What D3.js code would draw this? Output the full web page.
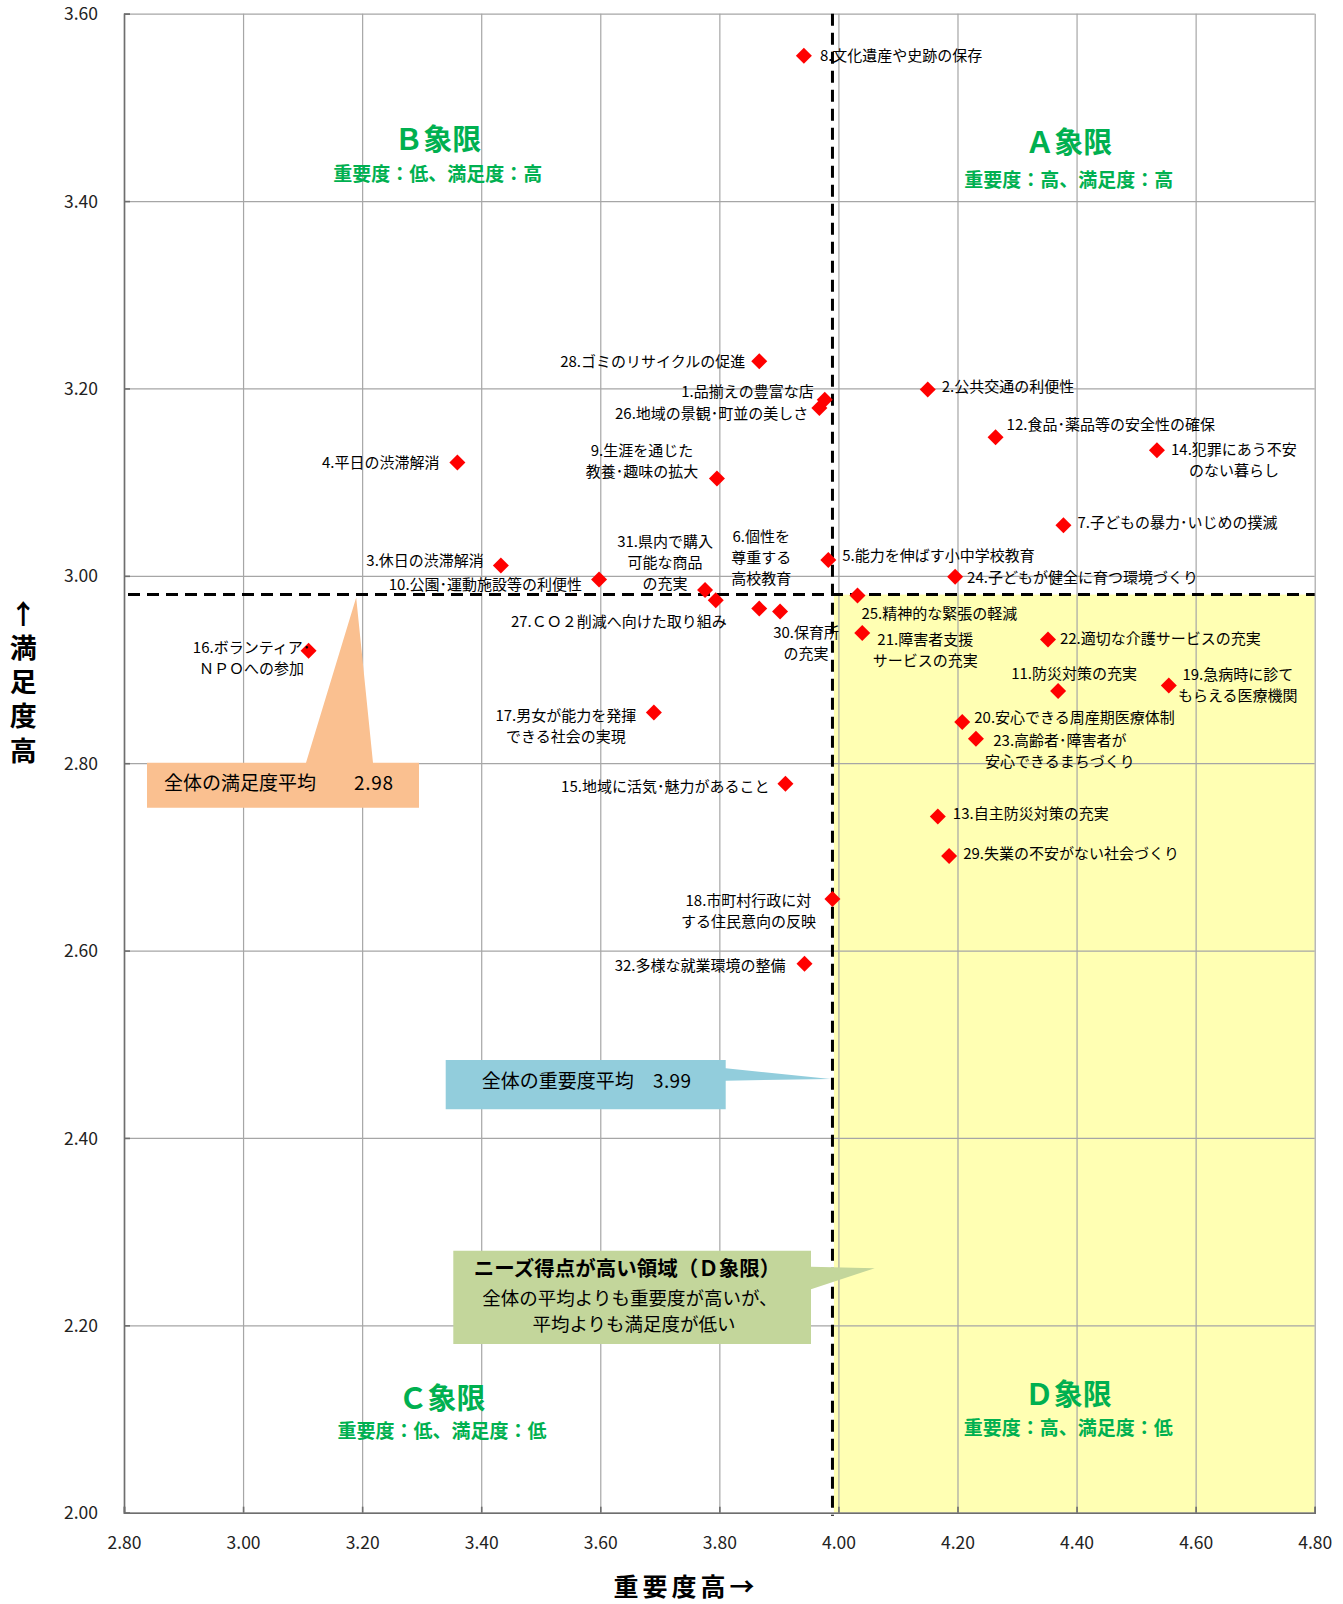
<!DOCTYPE html>
<html lang="ja">
<head>
<meta charset="UTF-8">
<title>重要度・満足度 散布図</title>
<script src="https://d3js.org/d3.v7.min.js"></script>
<style>
    body { margin: 0; background: #fff; }
    svg text { font-family: "Noto Sans CJK JP", "Noto Sans", sans-serif; }
</style>
</head>
<body>
<svg id="main" width="1343" height="1604"></svg>
<script>
    // item names, "|" marks a line break in the data label
    const items = [
        '1.品揃えの豊富な店', '2.公共交通の利便性', '3.休日の渋滞解消', '4.平日の渋滞解消',
        '5.能力を伸ばす小中学校教育', '6.個性を|尊重する|高校教育', '7.子どもの暴力･いじめの撲滅',
        '8.文化遺産や史跡の保存', '9.生涯を通じた|教養･趣味の拡大', '10.公園･運動施設等の利便性',
        '11.防災対策の充実', '12.食品･薬品等の安全性の確保', '13.自主防災対策の充実',
        '14.犯罪にあう不安|のない暮らし', '15.地域に活気･魅力があること', '16.ボランティア･|ＮＰＯへの参加',
        '17.男女が能力を発揮|できる社会の実現', '18.市町村行政に対|する住民意向の反映',
        '19.急病時に診て|もらえる医療機関', '20.安心できる周産期医療体制', '21.障害者支援|サービスの充実',
        '22.適切な介護サービスの充実', '23.高齢者･障害者が|安心できるまちづくり',
        '24.子どもが健全に育つ環境づくり', '25.精神的な緊張の軽減', '26.地域の景観･町並の美しさ',
        '27.ＣＯ２削減へ向けた取り組み', '28.ゴミのリサイクルの促進', '29.失業の不安がない社会づくり',
        '30.保育所|の充実', '31.県内で購入|可能な商品|の充実', '32.多様な就業環境の整備'
    ];
    // 重要度 (x)
    const importance = [3.977, 4.150, 3.433, 3.360, 3.983, 3.867, 4.378, 3.942, 3.796, 3.598,
        4.369, 4.264, 4.167, 4.535, 3.911, 3.110, 3.690, 3.990, 4.555, 4.208,
        4.040, 4.352, 4.231, 4.196, 4.032, 3.968, 3.794, 3.867, 4.186, 3.902, 3.776, 3.943];
    // 満足度 (y)
    const satisfaction = [3.188, 3.199, 3.011, 3.121, 3.017, 2.965, 3.054, 3.555, 3.104, 2.996,
        2.877, 3.148, 2.743, 3.134, 2.778, 2.920, 2.854, 2.655, 2.883, 2.844,
        2.939, 2.932, 2.826, 2.999, 2.979, 3.179, 2.974, 3.229, 2.701, 2.962, 2.985, 2.586];

    const xTicks = [2.8, 3.0, 3.2, 3.4, 3.6, 3.8, 4.0, 4.2, 4.4, 4.6, 4.8];
    const yTicks = [2.0, 2.2, 2.4, 2.6, 2.8, 3.0, 3.2, 3.4, 3.6];
    const avgImportance = 3.99;
    const avgSatisfaction = 2.98;

    // where each data label sits relative to its marker: [anchor, dx, dy]
    const labelPos = [
        ['end', -11, -8], ['start', 14, -3], ['end', -17, -5], ['end', -18, 0],
        ['start', 14, -4], ['middle', 2, -72], ['start', 14, -2], ['start', 16, 0],
        ['middle', -75, -28], ['end', -17, 5], ['middle', 16, -17], ['start', 11, -12],
        ['start', 15, -3], ['middle', 77, -1], ['end', -16, 3], ['middle', -57, -3],
        ['middle', -88, 3], ['middle', -84, 2], ['middle', 69, -11], ['start', 12, -4],
        ['middle', 63, 7], ['start', 12, -1], ['middle', 84, 2], ['start', 12, 1],
        ['start', 4, 18], ['end', -11, 6], ['end', 11, 22], ['end', -14, 0],
        ['start', 14, -2], ['middle', 26, 21], ['middle', -40, -48], ['end', -19, 2]
    ];

    let svg = d3.select('svg#main');
    let plot = {left: 124, right: 1314.7, top: 13.7, bottom: 1512.7};

    let xScale = d3.scaleLinear().domain([2.8, 4.8]).range([plot.left, plot.right]);
    let yScale = d3.scaleLinear().domain([2.0, 3.6]).range([plot.bottom, plot.top]);

    // D quadrant shading
    svg.append('rect')
        .attr('x', xScale(avgImportance) + 1.5)
        .attr('y', yScale(avgSatisfaction))
        .attr('width', plot.right - xScale(avgImportance) - 1.5)
        .attr('height', plot.bottom - yScale(avgSatisfaction))
        .attr('fill', '#ffffb3');

    // grid + tick labels
    let xAxis = svg.append('g')
        .attr('transform', 'translate(0,' + plot.bottom + ')')
        .call(d3.axisBottom(xScale).tickValues(xTicks).tickFormat(d3.format('.2f'))
            .tickSize(-(plot.bottom - plot.top)));
    xAxis.selectAll('text').attr('y', 30).attr('dy', '0.35em');

    let yAxis = svg.append('g')
        .attr('transform', 'translate(' + plot.left + ',0)')
        .call(d3.axisLeft(yScale).tickValues(yTicks).tickFormat(d3.format('.2f'))
            .tickSize(-(plot.right - plot.left)).tickPadding(26));
    yAxis.selectAll('text').attr('dy', '0.35em');

    svg.selectAll('.domain').remove();
    svg.selectAll('.tick line').attr('stroke', '#a6a6a6').attr('stroke-width', 1.2);
    svg.selectAll('.tick text')
        .attr('font-family', '"Noto Sans", sans-serif')
        .attr('font-size', 17.5).attr('fill', '#222');

    // axis lines with short inside ticks
    svg.append('g').attr('transform', 'translate(0,' + plot.bottom + ')')
        .call(d3.axisBottom(xScale).tickValues(xTicks).tickSize(-6).tickFormat(''))
        .selectAll('line, path').attr('stroke', '#6e6e6e').attr('stroke-width', 1.6);
    svg.append('g').attr('transform', 'translate(' + plot.left + ',0)')
        .call(d3.axisLeft(yScale).tickValues(yTicks).tickSize(-6).tickFormat(''))
        .selectAll('line, path').attr('stroke', '#6e6e6e').attr('stroke-width', 1.6);

    // average lines
    svg.append('line')
        .attr('x1', xScale(avgImportance)).attr('x2', xScale(avgImportance))
        .attr('y1', plot.top).attr('y2', plot.bottom + 3)
        .attr('stroke', '#000').attr('stroke-width', 3).attr('stroke-dasharray', '12,7');
    svg.append('line')
        .attr('x1', plot.left + 4).attr('x2', plot.right)
        .attr('y1', yScale(avgSatisfaction)).attr('y2', yScale(avgSatisfaction))
        .attr('stroke', '#000').attr('stroke-width', 3).attr('stroke-dasharray', '12,7');

    // callouts
    let callouts = svg.append('g');
    // 満足度平均
    callouts.append('path')
        .attr('d', 'M147,762.7 H306 L' + xScale(3.19) + ',' + (yScale(avgSatisfaction) + 3) +
            ' L373,762.7 H419 V807.7 H147 Z')
        .attr('fill', '#fac090');
    callouts.append('text').attr('x', 164).attr('y', 783.3).attr('dy', '0.35em')
        .attr('font-size', 19).text('全体の満足度平均');
    callouts.append('text').attr('x', 354).attr('y', 783.3).attr('dy', '0.35em')
        .attr('font-size', 19).attr('textLength', 39).attr('lengthAdjust', 'spacing')
        .text(avgSatisfaction.toFixed(2));
    // 重要度平均
    callouts.append('path')
        .attr('d', 'M445.7,1060 H725.7 V1068.3 L' + (xScale(avgImportance) - 2) + ',' + yScale(2.463) +
            ' L725.7,1080.7 V1109.3 H445.7 Z')
        .attr('fill', '#92cddc');
    callouts.append('text').attr('x', 481.7).attr('y', 1081.7).attr('dy', '0.35em')
        .attr('font-size', 19).text('全体の重要度平均');
    callouts.append('text').attr('x', 653).attr('y', 1081.7).attr('dy', '0.35em')
        .attr('font-size', 19).attr('textLength', 38).attr('lengthAdjust', 'spacing')
        .text(avgImportance.toFixed(2));
    // D quadrant note
    callouts.append('path')
        .attr('d', 'M453.3,1250.7 H811 V1266.7 L' + xScale(4.061) + ',' + yScale(2.261) +
            ' L811,1289.3 V1344 H453.3 Z')
        .attr('fill', '#c3d69b');
    callouts.append('text').attr('x', 627).attr('y', 1269.3).attr('dy', '0.35em')
        .attr('text-anchor', 'middle').attr('font-size', 20.5).attr('font-weight', 'bold')
        .text('ニーズ得点が高い領域（Ｄ象限）');
    callouts.append('text').attr('x', 630).attr('y', 1298.3).attr('dy', '0.35em')
        .attr('text-anchor', 'middle').attr('font-size', 18.5)
        .text('全体の平均よりも重要度が高いが、');
    callouts.append('text').attr('x', 634).attr('y', 1325).attr('dy', '0.35em')
        .attr('text-anchor', 'middle').attr('font-size', 18.5)
        .text('平均よりも満足度が低い');

    // quadrant titles
    const quadrants = [
        {name: 'Ａ象限', sub: '重要度：高、満足度：高', x: 4.387, y: 3.462, ys: 3.422},
        {name: 'Ｂ象限', sub: '重要度：低、満足度：高', x: 3.327, y: 3.465, ys: 3.429},
        {name: 'Ｃ象限', sub: '重要度：低、満足度：低', x: 3.334, y: 2.122, ys: 2.087},
        {name: 'Ｄ象限', sub: '重要度：高、満足度：低', x: 4.386, y: 2.126, ys: 2.090}
    ];
    let quad = svg.append('g').attr('fill', '#00b050').attr('font-weight', 'bold')
        .attr('text-anchor', 'middle');
    quad.selectAll('text.qname').data(quadrants).enter().append('text')
        .attr('class', 'qname')
        .attr('x', d => xScale(d.x)).attr('y', d => yScale(d.y)).attr('dy', '0.35em')
        .attr('font-size', 29).text(d => d.name);
    quad.selectAll('text.qsub').data(quadrants).enter().append('text')
        .attr('class', 'qsub')
        .attr('x', d => xScale(d.x)).attr('y', d => yScale(d.ys)).attr('dy', '0.35em')
        .attr('font-size', 19).text(d => d.sub);

    // markers
    let points = items.map((name, i) => ({name: name, x: importance[i], y: satisfaction[i], lp: labelPos[i]}));
    svg.append('g').selectAll('path')
        .data(points).enter().append('path')
        .attr('d', d3.symbol().type(d3.symbolSquare).size(128))
        .attr('transform', d => 'translate(' + xScale(d.x) + ',' + yScale(d.y) + ') rotate(45)')
        .attr('fill', '#ff0000');

    // data labels
    let labels = svg.append('g').attr('font-size', 15).attr('fill', '#000');
    points.forEach(function (d) {
        let px = xScale(d.x) + d.lp[1];
        let py = yScale(d.y) + d.lp[2];
        let t = labels.append('text')
            .attr('text-anchor', d.lp[0])
            .attr('x', px).attr('y', py);
        d.name.split('|').forEach(function (line, j) {
            t.append('tspan').attr('x', px).attr('y', py + j * 21).attr('dy', '0.35em').text(line);
        });
    });

    // axis titles
    svg.append('text')
        .attr('x', 686).attr('y', 1587).attr('dy', '0.35em')
        .attr('text-anchor', 'middle').attr('font-size', 25).attr('font-weight', 'bold')
        .attr('letter-spacing', 4)
        .text('重要度高→');
    svg.append('text')
        .attr('x', 23.3).attr('y', 600)
        .attr('font-size', 27).attr('font-weight', 'bold')
        .style('writing-mode', 'vertical-rl')
        .style('text-orientation', 'upright')
        .attr('letter-spacing', 7.2)
        .text('↑満足度高');
</script>
</body>
</html>
